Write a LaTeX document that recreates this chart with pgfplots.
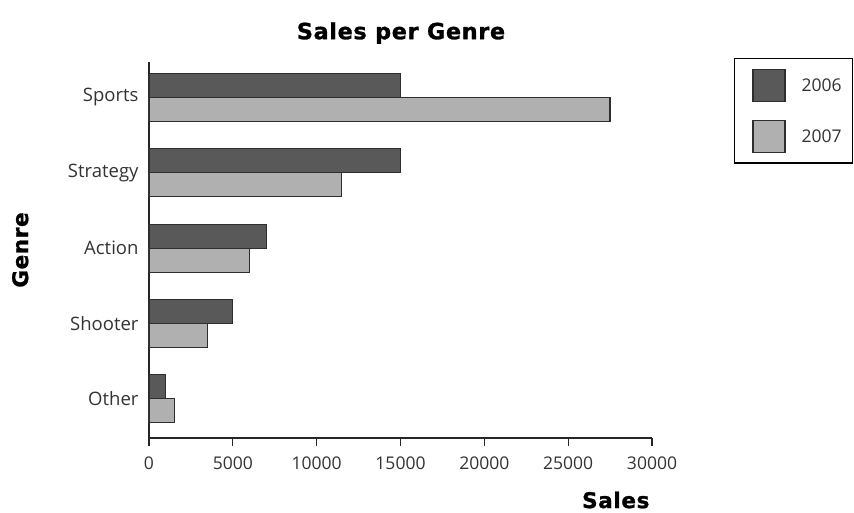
\documentclass[border=0pt]{standalone}
\usepackage{fontspec}
\setmainfont{Open Sans}
\newfontfamily\heavy[LetterSpace=3,FakeBold=1.2]{DejaVu Sans}
\usepackage{pgfplots}
\pgfplotsset{compat=1.18}

\definecolor{dark06}{HTML}{595959}
\definecolor{light07}{HTML}{B0B0B0}
\definecolor{edge}{HTML}{2E2E2E}

\pgfplotstableread{
pos genre    y2006 y2007
4   Sports   15000 27500
3   Strategy 15000 11500
2   Action   7000  6000
1   Shooter  5000  3500
0   Other    1000  1500
}\sales

\begin{document}
\begin{tikzpicture}
\useasboundingbox (0,0) rectangle (854pt,512pt);
\begin{axis}[
  at={(149pt,74pt)}, anchor=south west,
  scale only axis, width=503pt, height=376pt,
  xbar, bar width=24pt,
  xmin=0, xmax=30000,
  ymin=-0.52, ymax=4.47,
  ytick={0,1,2,3,4},
  yticklabels={Other,Shooter,Action,Strategy,Sports},
  xtick={0,5000,10000,15000,20000,25000,30000},
  scaled x ticks=false,
  /pgf/number format/assume math mode=true,
  /pgf/number format/1000 sep={},
  axis x line*=bottom, axis y line*=left,
  axis line style={line width=1.3pt, black!85, -},
  tick align=outside,
  xtick style={line width=1.3pt, black!85},
  ytick style={draw=none},
  major tick length=8pt,
  tick label style={font=\fontsize{17.5}{20}\selectfont, text=black!80},
  xticklabel style={yshift=-7pt},
  yticklabel style={xshift=1pt, font=\fontsize{18.5}{21}\selectfont},
  title={\heavy\bfseries Sales per Genre},
  title style={at={(0.501,1.061)}, anchor=center, font=\fontsize{22.3}{26}\selectfont},
  xlabel={\heavy\bfseries Sales},
  xlabel style={at={(0.928,-0.165)}, anchor=center, font=\fontsize{21.5}{26}\selectfont},
  ylabel={\heavy\bfseries Genre},
  ylabel style={at={(-0.256,0.5)}, anchor=center, rotate=0, font=\fontsize{21.5}{26}\selectfont},
  legend style={at={(1.4,1.0106)}, anchor=north east, draw=black, line width=1.2pt,
    inner xsep=11pt, inner ysep=10pt, row sep=18pt, column sep=16pt,
    font=\fontsize{17.5}{21}\selectfont, text=black!80,
    nodes={inner sep=0pt, anchor=base west}},
  legend cell align=left,
]
\addplot[fill=dark06, draw=edge, line width=1.2pt, bar shift=12pt,
  legend image code/.code={\path (-7pt,0pt);
    \draw[fill=dark06, draw=edge, line width=1.2pt] (0pt,-10pt) rectangle (32pt,22pt);}]
  table[x=y2006, y=pos] {\sales};
\addplot[fill=light07, draw=edge, line width=1.2pt, bar shift=-12pt,
  legend image code/.code={\path (-7pt,0pt);
    \draw[fill=light07, draw=edge, line width=1.2pt] (0pt,-10pt) rectangle (32pt,22pt);}]
  table[x=y2007, y=pos] {\sales};
\legend{2006,2007}
\end{axis}
\end{tikzpicture}
\end{document}
